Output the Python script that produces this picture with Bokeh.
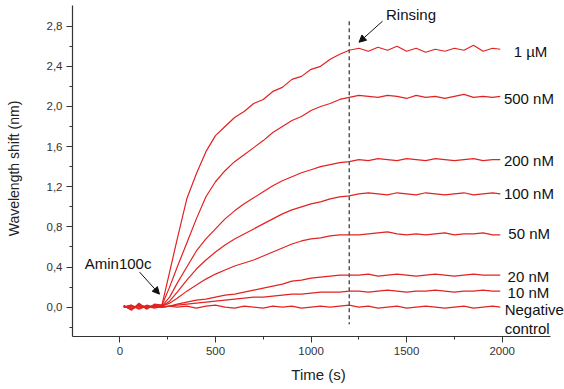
from bokeh.plotting import figure
from bokeh.models import Range1d, FixedTicker, Label, Arrow, NormalHead
from bokeh.embed import file_html
from bokeh.resources import INLINE

# ---- data ----
time_s = [20, 60, 100, 140, 180, 220, 260, 300, 350, 400, 450, 500, 550, 600, 650,
          700, 750, 800, 850, 900, 950, 1000, 1050, 1100, 1150, 1200, 1250, 1300,
          1350, 1400, 1450, 1500, 1550, 1600, 1650, 1700, 1750, 1800, 1850, 1900,
          1950, 1990]

shift_1uM = [0.02, -0.03, 0.04, -0.02, 0.03, 0.02,
             0.35, 0.68, 1.08, 1.33, 1.55, 1.71, 1.80, 1.89, 1.95, 2.03, 2.07, 2.15,
             2.19, 2.27, 2.30, 2.37, 2.40, 2.47, 2.52, 2.56,
             2.58, 2.55, 2.59, 2.56, 2.60, 2.55, 2.58, 2.54, 2.57, 2.55, 2.58, 2.56,
             2.61, 2.55, 2.58, 2.57]
shift_500nM = [0.01, -0.02, 0.03, -0.01, 0.02, 0.02,
               0.20, 0.40, 0.64, 0.88, 1.10, 1.25, 1.36, 1.45, 1.52, 1.59, 1.66, 1.74,
               1.80, 1.86, 1.90, 1.96, 2.00, 2.03, 2.07, 2.09,
               2.11, 2.10, 2.09, 2.11, 2.10, 2.08, 2.11, 2.09, 2.10, 2.08, 2.10, 2.12,
               2.09, 2.10, 2.09, 2.10]
shift_200nM = [0.00, 0.02, -0.02, 0.01, -0.01, 0.01,
               0.10, 0.24, 0.40, 0.56, 0.68, 0.78, 0.88, 0.96, 1.03, 1.09, 1.15, 1.21,
               1.26, 1.30, 1.34, 1.37, 1.40, 1.42, 1.44, 1.45,
               1.47, 1.46, 1.48, 1.47, 1.46, 1.48, 1.47, 1.46, 1.48, 1.47, 1.46, 1.47,
               1.48, 1.46, 1.47, 1.47]
shift_100nM = [0.01, -0.01, 0.02, 0.00, 0.01, 0.01,
               0.06, 0.15, 0.27, 0.38, 0.47, 0.55, 0.62, 0.68, 0.73, 0.78, 0.83, 0.88,
               0.93, 0.97, 1.00, 1.03, 1.05, 1.08, 1.10, 1.11,
               1.13, 1.14, 1.13, 1.12, 1.14, 1.13, 1.12, 1.14, 1.13, 1.12, 1.13, 1.14,
               1.12, 1.13, 1.14, 1.13]
shift_50nM = [0.00, 0.02, -0.01, 0.01, 0.00, 0.01,
              0.04, 0.09, 0.16, 0.22, 0.28, 0.33, 0.37, 0.41, 0.44, 0.47, 0.51, 0.55,
              0.59, 0.63, 0.66, 0.68, 0.69, 0.71, 0.72, 0.72,
              0.72, 0.73, 0.74, 0.75, 0.73, 0.72, 0.73, 0.72, 0.73, 0.74, 0.72, 0.73,
              0.73, 0.74, 0.72, 0.72]
shift_20nM = [0.01, -0.01, 0.02, 0.00, 0.01, 0.00,
              0.01, 0.03, 0.05, 0.07, 0.08, 0.10, 0.12, 0.13, 0.15, 0.17, 0.19, 0.21,
              0.23, 0.26, 0.27, 0.29, 0.30, 0.31, 0.32, 0.32,
              0.32, 0.33, 0.31, 0.32, 0.33, 0.32, 0.31, 0.32, 0.33, 0.32, 0.31, 0.32,
              0.33, 0.32, 0.32, 0.32]
shift_10nM = [0.00, 0.01, -0.01, 0.02, 0.00, 0.00,
              0.01, 0.02, 0.03, 0.04, 0.05, 0.06, 0.07, 0.08, 0.09, 0.10, 0.10, 0.11,
              0.12, 0.13, 0.13, 0.14, 0.15, 0.15, 0.15, 0.16,
              0.16, 0.15, 0.16, 0.17, 0.16, 0.15, 0.16, 0.16, 0.17, 0.16, 0.15, 0.16,
              0.16, 0.17, 0.16, 0.16]
shift_negative = [0.01, -0.02, 0.01, -0.01, 0.02, 0.00,
                  0.01, 0.00, 0.01, -0.01, 0.01, 0.02, 0.00, -0.01, 0.01, 0.00, -0.01, 0.01,
                  0.00, 0.01, -0.01, 0.00, 0.01, 0.00, 0.01, 0.02,
                  0.00, 0.01, -0.01, 0.00, 0.01, -0.01, 0.00, 0.01, 0.00, -0.01, 0.00, 0.01,
                  -0.01, 0.00, 0.01, 0.00]

series = [shift_1uM, shift_500nM, shift_200nM, shift_100nM,
          shift_50nM, shift_20nM, shift_10nM, shift_negative]

curve_labels = ["1 µM", "500 nM", "200 nM", "100 nM", "50 nM", "20 nM", "10 nM",
                "Negative", "control"]

rinse_time = 1200
rinse_line_y = [2.85, -0.17]

y_ticks = [0.0, 0.4, 0.8, 1.2, 1.6, 2.0, 2.4, 2.8]
y_tick_labels = ["0,0", "0,4", "0,8", "1,2", "1,6", "2,0", "2,4", "2,8"]
x_ticks = [0, 500, 1000, 1500, 2000]

# ---- label / annotation positions (layout) ----
label_x = [2060, 2009, 2009, 2009, 2032, 2028, 2028, 2013, 2013]
label_y = [2.55, 2.08, 1.46, 1.13, 0.73, 0.31, 0.15, -0.02, -0.21]

FONT = "Liberation Sans"
RED = "#e32222"

p = figure(width=564, height=389,
           x_range=Range1d(-248, 2326), y_range=Range1d(-0.292, 3.056),
           output_backend="svg", toolbar_location=None,
           min_border_left=72, min_border_right=0, min_border_top=0,
           min_border_bottom=53)

p.outline_line_color = None
p.xgrid.visible = False
p.ygrid.visible = False
p.background_fill_color = "white"
p.border_fill_color = "white"

for ys in series:
    p.line(time_s, ys, line_color=RED, line_width=1.2)

p.line([rinse_time, rinse_time], rinse_line_y, line_color="#555555",
       line_width=1.5, line_dash="4 3")

# axes
p.xaxis.ticker = FixedTicker(ticks=x_ticks, minor_ticks=[250, 750, 1250, 1750])
p.xaxis.bounds = (-248, 2252)
p.yaxis.ticker = FixedTicker(ticks=y_ticks,
                             minor_ticks=[-0.2, 0.2, 0.6, 1.0, 1.4, 1.8, 2.2, 2.6])
p.yaxis.bounds = (-0.292, 3.006)
p.yaxis.major_label_overrides = {t: s for t, s in zip(y_ticks, y_tick_labels)}

for ax in (p.xaxis[0], p.yaxis[0]):
    ax.axis_line_color = "#333333"
    ax.axis_line_width = 1.2
    ax.major_tick_line_color = "#333333"
    ax.minor_tick_line_color = "#333333"
    ax.major_tick_out = 6
    ax.major_tick_in = 0
    ax.minor_tick_out = 3
    ax.minor_tick_in = 0
    ax.major_label_text_font = FONT
    ax.major_label_text_font_size = "11.5px"
    ax.major_label_text_color = "#333333"
    ax.major_label_standoff = 4
    ax.axis_label_text_font = FONT
    ax.axis_label_text_font_style = "normal"
    ax.axis_label_text_color = "#222222"

p.xaxis.axis_label = "Time (s)"
p.xaxis.axis_label_text_font_size = "15px"
p.xaxis.axis_label_standoff = 8
p.yaxis.axis_label = "Wavelength shift (nm)"
p.yaxis.axis_label_text_font_size = "14px"
p.yaxis.axis_label_standoff = 22

for lx, ly, lt in zip(label_x, label_y, curve_labels):
    p.add_layout(Label(x=lx, y=ly, text=lt, text_font=FONT, text_font_size="15px",
                       text_color="#111111", text_baseline="middle", text_align="left"))

p.add_layout(Label(x=1392, y=2.92, text="Rinsing", text_font=FONT,
                   text_font_size="15px", text_color="#111111",
                   text_baseline="middle", text_align="left"))
p.add_layout(Label(x=-184, y=0.44, text="Amin100c", text_font=FONT,
                   text_font_size="15px", text_color="#111111",
                   text_baseline="middle", text_align="left"))

p.add_layout(Arrow(end=NormalHead(size=7, fill_color="#111111", line_color="#111111"),
                   x_start=1374, y_start=2.85, x_end=1251, y_end=2.64,
                   line_color="#111111", line_width=1))
p.add_layout(Arrow(end=NormalHead(size=7, fill_color="#111111", line_color="#111111"),
                   x_start=103, y_start=0.35, x_end=207, y_end=0.13,
                   line_color="#111111", line_width=1))

open("out.html", "w").write(file_html(p, INLINE))
